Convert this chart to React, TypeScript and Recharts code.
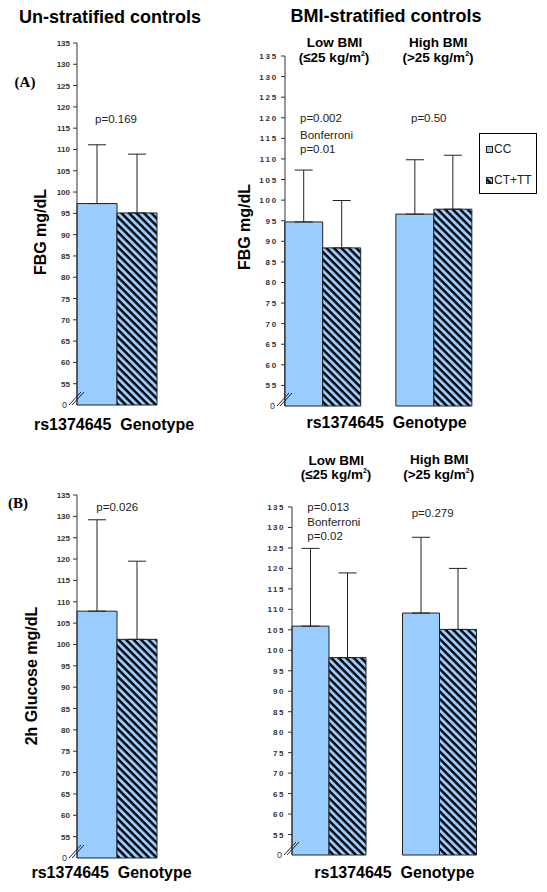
import React from "react";
import { BarChart, Bar, XAxis, YAxis, ErrorBar, Legend } from "recharts";

const ARIAL = "Arial, 'Liberation Sans', Helvetica, sans-serif";
const TIMES = "'Times New Roman', 'Liberation Serif', serif";
const BLUE = "#99CCFF";

// categories
const singleGroup = ["rs1374645 Genotype"];
const bmiGroups = ["Low BMI", "High BMI"];

// y ticks (the bottom one is shown as the broken "0")
const yTicks = [50, 55, 60, 65, 70, 75, 80, 85, 90, 95, 100, 105, 110, 115, 120, 125, 130, 135];

// (A) fasting blood glucose, un-stratified
const fbgAllCC = [97.3];
const fbgAllCCTop = [111.1];
const fbgAllCT = [95.1];
const fbgAllCTTop = [108.9];

// (A) fasting blood glucose, BMI-stratified
const fbgBmiCC = [94.7, 96.6];
const fbgBmiCCTop = [107.3, 109.8];
const fbgBmiCT = [88.4, 97.8];
const fbgBmiCTTop = [99.9, 110.9];

// (B) 2h glucose, un-stratified
const ghAllCC = [107.8];
const ghAllCCTop = [129.2];
const ghAllCT = [101.2];
const ghAllCTTop = [119.5];

// (B) 2h glucose, BMI-stratified
const ghBmiCC = [105.9, 109.1];
const ghBmiCCTop = [124.9, 127.6];
const ghBmiCT = [98.2, 105.1];
const ghBmiCTTop = [118.9, 120.0];

const makeRows = (groups: string[], cc: number[], ccTop: number[], ct: number[], ctTop: number[]) =>
  groups.map((g, i) => ({
    group: g,
    cc: cc[i],
    ccErr: [0, +(ccTop[i] - cc[i]).toFixed(1)],
    ct: ct[i],
    ctErr: [0, +(ctTop[i] - ct[i]).toFixed(1)],
  }));

const AxisTick = (props: any) => {
  const { y, payload, axisX, spacing } = props;
  const v = payload.value;
  if (v === 50) {
    return (
      <g>
        <text x={axisX - 10} y={y} dy={3} textAnchor="end" fontSize={9} fill="#333" fontFamily={ARIAL}>
          0
        </text>
        <line x1={axisX - 8} y1={y} x2={axisX + 4} y2={y - 13} stroke="#222" strokeWidth={1} />
        <line x1={axisX - 5} y1={y} x2={axisX + 7} y2={y - 13} stroke="#222" strokeWidth={1} />
      </g>
    );
  }
  return (
    <g>
      <line x1={axisX - 4} y1={y} x2={axisX} y2={y} stroke="#333" strokeWidth={1} />
      <text
        x={axisX - 7}
        y={y}
        dy={3}
        textAnchor="end"
        fontSize={8}
        fontWeight="bold"
        letterSpacing={spacing}
        fill="#333"
        fontFamily={ARIAL}
      >
        {v}
      </text>
    </g>
  );
};

const Hatch = ({ id }: { id: string }) => (
  <defs>
    <pattern id={id} patternUnits="userSpaceOnUse" width={5.3} height={5.3} patternTransform="rotate(45)">
      <rect width={5.3} height={5.3} fill={BLUE} />
      <rect width={5.3} height={2.4} fill="#000" />
    </pattern>
  </defs>
);

const LegendBox = (props: any) => {
  const items = props.payload || [];
  return (
    <div
      style={{
        border: "1px solid #000",
        width: 58,
        height: 61,
        boxSizing: "border-box",
        background: "#fff",
        fontFamily: ARIAL,
        fontSize: 12,
        color: "#222",
        paddingLeft: 6,
        paddingTop: 6,
      }}
    >
      {items.map((it: any, i: number) => (
        <div key={i} style={{ display: "flex", alignItems: "center", height: 18, marginBottom: i === 0 ? 13 : 0 }}>
          <svg width={7} height={7} style={{ marginRight: 1 }}>
            <rect x={0.5} y={0.5} width={6} height={6} fill={it.color} stroke="#222" strokeWidth={1} />
          </svg>
          <span>{it.value}</span>
        </div>
      ))}
    </div>
  );
};

type PanelProps = {
  data: any[];
  left: number;
  top: number;
  width: number;
  height: number;
  margin: { top: number; right: number; bottom: number; left: number };
  axisWidth: number;
  padLeft: number;
  catGap: number;
  hatchId: string;
  spacing: number;
  legend?: boolean;
};

const Panel = ({ data, left, top, width, height, margin, axisWidth, padLeft, catGap, hatchId, spacing, legend }: PanelProps) => {
  const axisX = margin.left + axisWidth;
  return (
    <div style={{ position: "absolute", left, top }}>
      <BarChart width={width} height={height} data={data} margin={margin} barGap={0} barCategoryGap={catGap}>
        <Hatch id={hatchId} />
        <XAxis dataKey="group" hide padding={{ left: padLeft, right: 0 }} />
        <YAxis
          type="number"
          domain={[50, 135]}
          ticks={yTicks}
          interval={0}
          width={axisWidth}
          axisLine={{ stroke: "#333", strokeWidth: 1 }}
          tickLine={false}
          tick={(p: any) => <AxisTick {...p} axisX={axisX} spacing={spacing} />}
        />
        <Bar dataKey="cc" name="CC" fill={BLUE} stroke="#222" strokeWidth={1} isAnimationActive={false}>
          <ErrorBar dataKey="ccErr" direction="y" width={9} stroke="#222" strokeWidth={1} />
        </Bar>
        <Bar dataKey="ct" name="CT+TT" fill={`url(#${hatchId})`} stroke="#222" strokeWidth={1} isAnimationActive={false}>
          <ErrorBar dataKey="ctErr" direction="y" width={9} stroke="#222" strokeWidth={1} />
        </Bar>
        {legend && (
          <Legend
            layout="vertical"
            align="center"
            verticalAlign="middle"
            content={LegendBox}
            wrapperStyle={{ left: 279, top: 133, width: 58, height: 61 }}
          />
        )}
      </BarChart>
    </div>
  );
};

const Txt = ({
  x,
  y,
  children,
  size = 11.5,
  bold = false,
  align = "center",
  font = ARIAL,
  rotate = false,
}: any) => (
  <div
    style={{
      position: "absolute",
      left: x,
      top: y,
      transform: `translate(${align === "center" ? "-50%" : "0"}, -50%)${rotate ? " rotate(-90deg)" : ""}`,
      fontFamily: font,
      fontSize: size,
      fontWeight: bold ? "bold" : "normal",
      whiteSpace: "pre",
      color: bold ? "#000" : "#222",
      lineHeight: 1,
    }}
  >
    {children}
  </div>
);

const Sq = () => <sup style={{ fontSize: 7, verticalAlign: "top", position: "relative", top: -1 }}>2</sup>;

export default function App() {
  const fbgAll = makeRows(singleGroup, fbgAllCC, fbgAllCCTop, fbgAllCT, fbgAllCTTop);
  const fbgBmi = makeRows(bmiGroups, fbgBmiCC, fbgBmiCCTop, fbgBmiCT, fbgBmiCTTop);
  const ghAll = makeRows(singleGroup, ghAllCC, ghAllCCTop, ghAllCT, ghAllCTTop);
  const ghBmi = makeRows(bmiGroups, ghBmiCC, ghBmiCCTop, ghBmiCT, ghBmiCTTop);

  return (
    <div style={{ position: "absolute", left: 0, top: 0, width: 547, height: 892, background: "#fff", overflow: "hidden" }}>
      <Panel
        data={fbgAll}
        left={0}
        top={0}
        width={160}
        height={410}
        margin={{ top: 43, right: 3, bottom: 5, left: 0 }}
        axisWidth={77}
        padLeft={0}
        catGap={0}
        hatchId="hatchA1"
        spacing={0}
      />
      <Panel
        data={fbgBmi}
        left={200}
        top={0}
        width={347}
        height={411}
        margin={{ top: 56, right: 58, bottom: 5, left: 0 }}
        axisWidth={85}
        padLeft={-18.3}
        catGap={18}
        hatchId="hatchA2"
        spacing={1.8}
        legend
      />
      <Panel
        data={ghAll}
        left={0}
        top={452}
        width={160}
        height={411}
        margin={{ top: 43, right: 3, bottom: 5, left: 0 }}
        axisWidth={77}
        padLeft={0}
        catGap={0}
        hatchId="hatchB1"
        spacing={0}
      />
      <Panel
        data={ghBmi}
        left={200}
        top={450}
        width={347}
        height={410}
        margin={{ top: 57, right: 52, bottom: 5, left: 0 }}
        axisWidth={92}
        padLeft={-18}
        catGap={18}
        hatchId="hatchB2"
        spacing={1.5}
      />

      <Txt x={110} y={17} size={18} bold>Un-stratified controls</Txt>
      <Txt x={386} y={16} size={18} bold>BMI-stratified controls</Txt>
      <Txt x={25} y={82} size={15} bold font={TIMES}>(A)</Txt>
      <Txt x={18} y={503} size={15} bold font={TIMES}>(B)</Txt>

      <Txt x={334.5} y={43} size={13.5} bold>Low BMI</Txt>
      <Txt x={334} y={58} size={13.5} bold>(≤25 kg/m<Sq />)</Txt>
      <Txt x={438.3} y={43} size={13.5} bold>High BMI</Txt>
      <Txt x={438} y={58} size={13.5} bold>(&gt;25 kg/m<Sq />)</Txt>
      <Txt x={336.3} y={461} size={13.5} bold>Low BMI</Txt>
      <Txt x={336} y={475} size={13.5} bold>(≤25 kg/m<Sq />)</Txt>
      <Txt x={439.2} y={460} size={13.5} bold>High BMI</Txt>
      <Txt x={438.7} y={475} size={13.5} bold>(&gt;25 kg/m<Sq />)</Txt>

      <Txt x={116} y={120}>p=0.169</Txt>
      <Txt x={300} y={119} align="left">p=0.002</Txt>
      <Txt x={300} y={136} align="left">Bonferroni</Txt>
      <Txt x={300} y={150} align="left">p=0.01</Txt>
      <Txt x={411} y={119} align="left">p=0.50</Txt>
      <Txt x={117.3} y={508}>p=0.026</Txt>
      <Txt x={307.3} y={508.3} align="left">p=0.013</Txt>
      <Txt x={307.3} y={523.3} align="left">Bonferroni</Txt>
      <Txt x={307.3} y={536.7} align="left">p=0.02</Txt>
      <Txt x={411.7} y={514} align="left">p=0.279</Txt>

      <Txt x={41} y={232} size={16} bold rotate>FBG mg/dL</Txt>
      <Txt x={245} y={227} size={16} bold rotate>FBG mg/dL</Txt>
      <Txt x={32} y={676} size={16} bold rotate>2h Glucose mg/dL</Txt>

      <Txt x={114} y={425} size={16} bold>{"rs1374645  Genotype"}</Txt>
      <Txt x={386.5} y={423} size={16} bold>{"rs1374645  Genotype"}</Txt>
      <Txt x={111.5} y={873} size={16} bold>{"rs1374645  Genotype"}</Txt>
      <Txt x={394.3} y={873} size={16} bold>{"rs1374645  Genotype"}</Txt>
    </div>
  );
}
